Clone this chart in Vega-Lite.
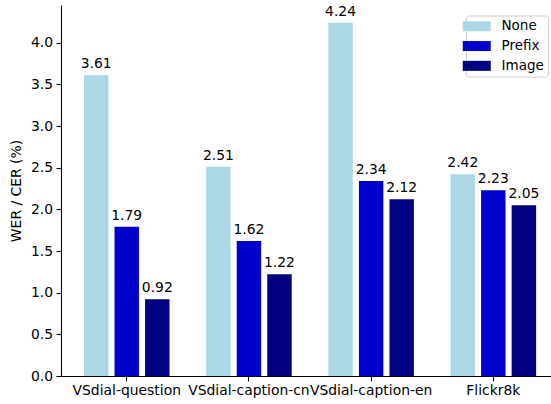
{
  "$schema": "https://vega.github.io/schema/vega-lite/v6.json",
  "width": 490,
  "height": 371,
  "autosize": {"type": "none"},
  "padding": {"left": 61, "top": 5, "right": 0, "bottom": 28},
  "config": {
    "font": "DejaVu Sans",
    "view": {"stroke": null},
    "axis": {
      "grid": false,
      "domainColor": "#000000",
      "domainWidth": 1.1,
      "tickColor": "#000000",
      "tickWidth": 1.1,
      "tickSize": 5,
      "labelColor": "#000000",
      "titleColor": "#000000",
      "labelFontSize": 13.9,
      "titleFontSize": 13.9,
      "titleFontWeight": "normal"
    },
    "legend": {"labelFontSize": 13.5}
  },
  "data": {
    "values": [
      {"dataset": "VSdial-question", "method": "None", "value": 3.61},
      {"dataset": "VSdial-question", "method": "Prefix", "value": 1.79},
      {"dataset": "VSdial-question", "method": "Image", "value": 0.92},
      {"dataset": "VSdial-caption-cn", "method": "None", "value": 2.51},
      {"dataset": "VSdial-caption-cn", "method": "Prefix", "value": 1.62},
      {"dataset": "VSdial-caption-cn", "method": "Image", "value": 1.22},
      {"dataset": "VSdial-caption-en", "method": "None", "value": 4.24},
      {"dataset": "VSdial-caption-en", "method": "Prefix", "value": 2.34},
      {"dataset": "VSdial-caption-en", "method": "Image", "value": 2.12},
      {"dataset": "Flickr8k", "method": "None", "value": 2.42},
      {"dataset": "Flickr8k", "method": "Prefix", "value": 2.23},
      {"dataset": "Flickr8k", "method": "Image", "value": 2.05}
    ]
  },
  "encoding": {
    "x": {
      "field": "dataset",
      "type": "nominal",
      "sort": ["VSdial-question", "VSdial-caption-cn", "VSdial-caption-en", "Flickr8k"],
      "scale": {"paddingInner": 0.25, "paddingOuter": 0.13, "align": 0.627},
      "axis": {"title": null, "labelAngle": 0, "labelOverlap": false, "labelBound": false, "labelFlush": false, "labelPadding": 2}
    },
    "xOffset": {
      "field": "method",
      "type": "nominal",
      "sort": ["None", "Prefix", "Image"],
      "scale": {"paddingInner": 0.2, "paddingOuter": 0.1}
    },
    "y": {
      "field": "value",
      "type": "quantitative",
      "scale": {"domain": [0, 4.452], "nice": false, "zero": true},
      "axis": {
        "title": "WER / CER (%)",
        "values": [0, 0.5, 1, 1.5, 2, 2.5, 3, 3.5, 4],
        "format": ".1f",
        "labelPadding": 3.5,
        "titlePadding": 7
      }
    }
  },
  "layer": [
    {
      "mark": {"type": "bar"},
      "encoding": {
        "color": {
          "field": "method",
          "type": "nominal",
          "sort": ["None", "Prefix", "Image"],
          "scale": {"domain": ["None", "Prefix", "Image"], "range": ["#add8e6", "#0000cd", "#000080"]},
          "legend": {
            "title": null,
            "orient": "none",
            "legendX": 405,
            "legendY": 10.5,
            "padding": 4,
            "strokeColor": "#cccccc",
            "cornerRadius": 3,
            "fillColor": "rgba(255,255,255,0.8)",
            "labelFontSize": 13.5,
            "labelColor": "#000000",
            "labelOffset": 18,
            "rowPadding": 4.8,
            "symbolType": "M-2.8,-1H2.8V1H-2.8Z",
            "symbolSize": 100,
            "symbolStrokeWidth": 0,
            "symbolOpacity": 1
          }
        }
      }
    },
    {
      "mark": {"type": "text", "dy": -7, "baseline": "alphabetic", "fontSize": 13.9, "color": "#000000"},
      "encoding": {
        "text": {"field": "value", "type": "quantitative", "format": ".2f"}
      }
    }
  ]
}
